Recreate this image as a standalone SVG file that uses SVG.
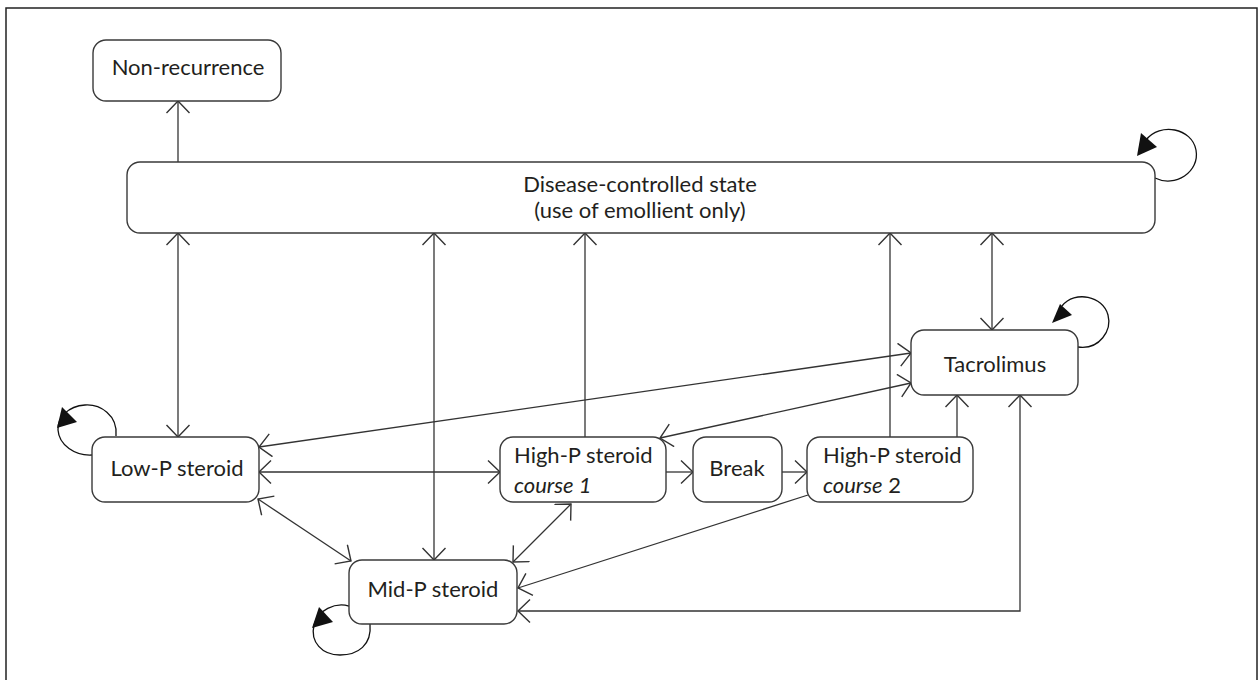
<svg xmlns="http://www.w3.org/2000/svg" width="1260" height="680" viewBox="0 0 1260 680">
  <style>
    .node rect { fill: #ffffff; stroke: #3a3a3a; stroke-width: 1.4; }
    .lbl { font-family: Lato, "Open Sans", "Liberation Sans", sans-serif; font-size: 22px; fill: #231f20; }
    .mid { text-anchor: middle; }
    .it { font-style: italic; }
    .edge { fill: none; stroke: #333333; stroke-width: 1.3; }
    .loop { fill: none; stroke: #111111; stroke-width: 1.3; }
    .tip { fill: #111111; stroke: none; }
  </style>
  <defs>
    <marker id="open" markerUnits="userSpaceOnUse" markerWidth="16" markerHeight="26" refX="13" refY="12" orient="auto-start-reverse">
      <path d="M1,0.5 L13,12 L1,23.5" fill="none" stroke="#333333" stroke-width="1.4"/>
    </marker>
  </defs>

  <!-- outer frame -->
  <rect x="6" y="8" width="1251" height="690" fill="#ffffff" stroke="#222222" stroke-width="1.5"/>

  <!-- connectors -->
  <g id="connectors">
    <line class="edge" x1="178" y1="162" x2="178" y2="101" marker-end="url(#open)"/>
    <line class="edge" x1="178" y1="233" x2="178" y2="437" marker-start="url(#open)" marker-end="url(#open)"/>
    <line class="edge" x1="434" y1="233" x2="434" y2="560" marker-start="url(#open)" marker-end="url(#open)"/>
    <line class="edge" x1="585" y1="437" x2="585" y2="233" marker-end="url(#open)"/>
    <line class="edge" x1="890" y1="437" x2="890" y2="233" marker-end="url(#open)"/>
    <line class="edge" x1="992" y1="233" x2="992" y2="330" marker-start="url(#open)" marker-end="url(#open)"/>
    <line class="edge" x1="259" y1="447" x2="911" y2="353" marker-start="url(#open)" marker-end="url(#open)"/>
    <line class="edge" x1="911" y1="383" x2="660" y2="438" marker-start="url(#open)" marker-end="url(#open)"/>
    <line class="edge" x1="259" y1="472" x2="500" y2="472" marker-start="url(#open)" marker-end="url(#open)"/>
    <line class="edge" x1="258" y1="499" x2="351" y2="561" marker-start="url(#open)" marker-end="url(#open)"/>
    <line class="edge" x1="571" y1="504" x2="513" y2="562" marker-start="url(#open)" marker-end="url(#open)"/>
    <line class="edge" x1="666" y1="472" x2="693" y2="472" marker-end="url(#open)"/>
    <line class="edge" x1="782" y1="472" x2="807" y2="472" marker-end="url(#open)"/>
    <line class="edge" x1="808" y1="495" x2="518" y2="588" marker-end="url(#open)"/>
    <polyline class="edge" points="1020,395 1020,611 518,611" marker-start="url(#open)" marker-end="url(#open)"/>
    <line class="edge" x1="957" y1="437" x2="957" y2="395" marker-end="url(#open)"/>

    <!-- self transitions -->
    <path class="loop" d="M1155,178 C1175,188 1200,172 1196,150 C1192,128 1160,122 1146,140"/>
    <polygon class="tip" points="1137,156 1141,133 1157,147"/>
    <path class="loop" d="M1078,347 C1100,350 1112,330 1108,315 C1103,296 1075,290 1062,306"/>
    <polygon class="tip" points="1052,323 1060,304 1072,315"/>
    <path class="loop" d="M116,436 C118,415 100,404 85,405 C68,406 57,418 58,430 C59,445 75,456 92,455"/>
    <polygon class="tip" points="57,428 62,407 77,422"/>
    <path class="loop" d="M349,606 C335,602 318,610 314,625 C310,642 322,655 340,655 C358,655 372,645 370,624"/>
    <polygon class="tip" points="312,628 319,607 333,622"/>
  </g>

  <g id="non-recurrence" class="node">
    <rect x="93" y="40" width="188" height="61" rx="13"/>
    <text class="lbl mid" x="188" y="75">Non-recurrence</text>
  </g>
  <g id="disease-controlled" class="node">
    <rect x="127" y="162" width="1028" height="71" rx="13"/>
    <text class="lbl mid" x="640" y="192">Disease-controlled state</text>
    <text class="lbl mid" x="640" y="218">(use of emollient only)</text>
  </g>
  <g id="tacrolimus" class="node">
    <rect x="911" y="330" width="167" height="65" rx="13"/>
    <text class="lbl mid" x="995" y="372">Tacrolimus</text>
  </g>
  <g id="low-p" class="node">
    <rect x="92" y="437" width="167" height="65" rx="13"/>
    <text class="lbl mid" x="177" y="476">Low-P steroid</text>
  </g>
  <g id="high-p-1" class="node">
    <rect x="500" y="437" width="166" height="65" rx="13"/>
    <text class="lbl" x="514" y="463">High-P steroid</text>
    <text class="lbl it" x="514" y="493">course  1</text>
  </g>
  <g id="break" class="node">
    <rect x="693" y="437" width="89" height="65" rx="13"/>
    <text class="lbl mid" x="737" y="476">Break</text>
  </g>
  <g id="high-p-2" class="node">
    <rect x="807" y="437" width="166" height="65" rx="13"/>
    <text class="lbl" x="823" y="463">High-P steroid</text>
    <text class="lbl" x="823" y="493"><tspan class="it">course</tspan> 2</text>
  </g>
  <g id="mid-p" class="node">
    <rect x="349" y="560" width="168" height="64" rx="13"/>
    <text class="lbl mid" x="433" y="597">Mid-P steroid</text>
  </g>
</svg>
